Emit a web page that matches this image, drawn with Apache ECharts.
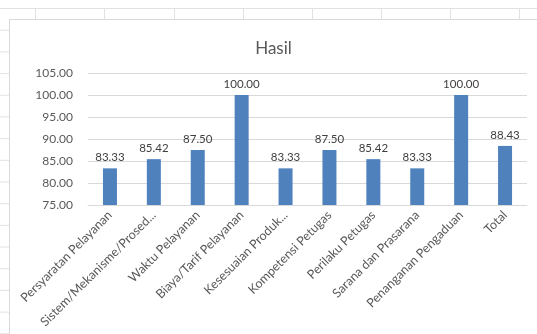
<!DOCTYPE html>
<html>
<head>
<meta charset="utf-8">
<script src="https://cdn.jsdelivr.net/npm/echarts@6/dist/echarts.min.js"></script>
<style>
  html, body { margin: 0; padding: 0; background: #fff; }
  body { width: 537px; height: 334px; position: relative; overflow: hidden; }
  /* spreadsheet cells behind the chart */
  .sheet {
    position: absolute; left: 0; top: 0; width: 537px; height: 334px;
    background-image:
      linear-gradient(#e2e2e2 1px, transparent 1px);
    background-size: 100% 21.7px;
    background-position: 0 8px;
  }
  .cols { position: absolute; top: 8px; height: 11px; border-left: 1px solid #e2e2e2; }
  #main {
    position: absolute; left: 9px; top: 19px; width: 528px; height: 315px;
    background: #fff; border-left: 1px solid #d9d9d9; border-top: 1px solid #d9d9d9;
    box-sizing: border-box;
  }
</style>
</head>
<body>
<div class="sheet"></div>
<div class="cols" style="left:35px"></div>
<div class="cols" style="left:104px"></div>
<div class="cols" style="left:174px"></div>
<div class="cols" style="left:243px"></div>
<div class="cols" style="left:312px"></div>
<div class="cols" style="left:381px"></div>
<div class="cols" style="left:450px"></div>
<div class="cols" style="left:519px"></div>
<div id="main"></div>
<script>
const categories = [
  'Persyaratan Pelayanan',
  'Sistem/Mekanisme/Prosed...',
  'Waktu Pelayanan',
  'Biaya/Tarif Pelayanan',
  'Kesesuaian Produk...',
  'Kompetensi Petugas',
  'Perilaku Petugas',
  'Sarana dan Prasarana',
  'Penanganan Pengaduan',
  'Total'
];
const hasil = [83.33, 85.42, 87.5, 100.0, 83.33, 87.5, 85.42, 83.33, 100.0, 88.43];

const font = 'Lato, "Open Sans", sans-serif';
const chart = echarts.init(document.getElementById('main'));

chart.setOption({
  animation: false,
  title: {
    text: 'Hasil',
    left: 'center',
    top: 15,
    textStyle: { fontFamily: font, fontSize: 17, fontWeight: 'normal', color: '#595959' }
  },
  grid: { left: 78, right: 10, top: 53, bottom: 129 },
  xAxis: {
    type: 'category',
    data: categories,
    axisTick: { show: false },
    axisLine: { lineStyle: { color: '#d9d9d9' } },
    axisLabel: {
      rotate: 45,
      interval: 0,
      margin: 8,
      fontFamily: font,
      fontSize: 12.5,
      color: '#595959'
    }
  },
  yAxis: {
    type: 'value',
    min: 75,
    max: 105,
    interval: 5,
    axisLine: { show: false },
    axisTick: { show: false },
    splitLine: { lineStyle: { color: '#d9d9d9' } },
    axisLabel: {
      margin: 15,
      fontFamily: font,
      fontSize: 12,
      color: '#595959',
      formatter: v => v.toFixed(2)
    }
  },
  series: [{
    name: 'Hasil',
    type: 'bar',
    data: hasil,
    barWidth: 14,
    itemStyle: { color: '#4f81bd' },
    label: {
      show: true,
      position: 'top',
      distance: 5,
      fontFamily: font,
      fontSize: 11.5,
      color: '#404040',
      formatter: p => p.value.toFixed(2)
    }
  }]
});
</script>
</body>
</html>
